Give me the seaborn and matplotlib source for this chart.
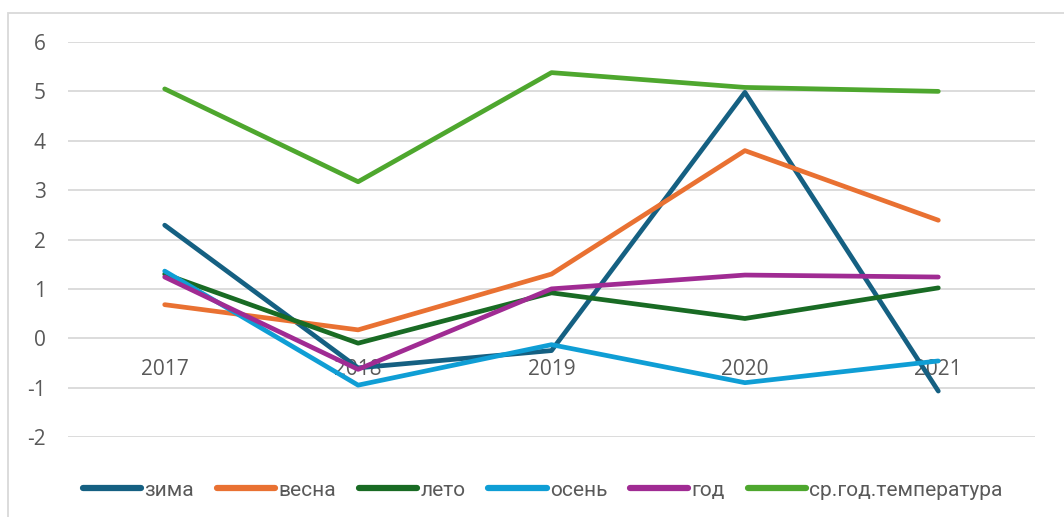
import matplotlib
matplotlib.use("Agg")
import matplotlib.pyplot as plt
import seaborn as sns
import pandas as pd
from matplotlib.patches import Rectangle

years = ["2017", "2018", "2019", "2020", "2021"]
zima = [2.29, -0.60, -0.25, 4.98, -1.07]
vesna = [0.68, 0.17, 1.30, 3.80, 2.39]
leto = [1.30, -0.10, 0.92, 0.40, 1.02]
osen = [1.36, -0.95, -0.13, -0.90, -0.46]
god = [1.24, -0.63, 1.00, 1.28, 1.24]
sr_temp = [5.05, 3.17, 5.38, 5.08, 5.00]

series_names = ["зима", "весна", "лето", "осень", "год", "ср.год.температура"]
series_vals = [zima, vesna, leto, osen, god, sr_temp]
colors = ["#156082", "#E97132", "#196B24", "#0F9ED5", "#A02B93", "#4EA72E"]

rows = []
for name, vals in zip(series_names, series_vals):
    for i, v in enumerate(vals):
        rows.append({"idx": i, "value": v, "series": name})
df = pd.DataFrame(rows)

sns.set_theme(style="white")
plt.rcParams['font.family'] = ['Open Sans', 'DejaVu Sans']
plt.rcParams['axes.unicode_minus'] = False

fig = plt.figure(figsize=(10.64, 5.17), dpi=100)
ax = fig.add_axes([68/1064, (517-437)/517, (1035-68)/1064, (437-42)/517])

sns.lineplot(data=df, x="idx", y="value", hue="series", hue_order=series_names,
             palette=colors, linewidth=3.4, sort=False, ax=ax, zorder=3,
             legend=True)
for ln in ax.get_lines():
    ln.set_solid_capstyle("round")
    ln.set_solid_joinstyle("round")

ax.set_ylim(-2, 6)
ax.set_xlim(-0.5, 4.5)
ax.set_yticks(range(-2, 7))
ax.set_xticks(range(len(years)))
ax.set_xticklabels(years)
ax.yaxis.grid(True, color="#D9D9D9", linewidth=1.3, zorder=0)
ax.xaxis.grid(False)
ax.set_axisbelow(True)
for s in ["top", "right", "left"]:
    ax.spines[s].set_visible(False)
ax.spines["bottom"].set_position(("data", 0))
ax.spines["bottom"].set_visible(False)
ax.tick_params(axis="both", length=0, labelsize=15, labelcolor="#595959")
ax.tick_params(axis="x", pad=15)
ax.tick_params(axis="y", pad=16)
ax.set_xlabel("")
ax.set_ylabel("")

handles, labels = ax.get_legend_handles_labels()
ax.get_legend().remove()
for h in handles:
    h.set_linewidth(4.5)
    h.set_solid_capstyle("round")
leg = fig.legend(handles, labels, loc="center", bbox_to_anchor=(0.51, 0.052),
                 ncol=6, frameon=False, handlelength=2.8, handletextpad=0.15,
                 columnspacing=1.1, prop={"family": ["Liberation Sans Narrow", "Roboto", "DejaVu Sans"], "size": 15})
for t in leg.get_texts():
    t.set_color("#595959")

fig.patches.append(Rectangle((8/1064, -0.1), 1.2, (517-13)/517 + 0.1,
                             transform=fig.transFigure, fill=False,
                             edgecolor="#D9D9D9", linewidth=1.3))

fig.savefig("out.png", dpi=100)
